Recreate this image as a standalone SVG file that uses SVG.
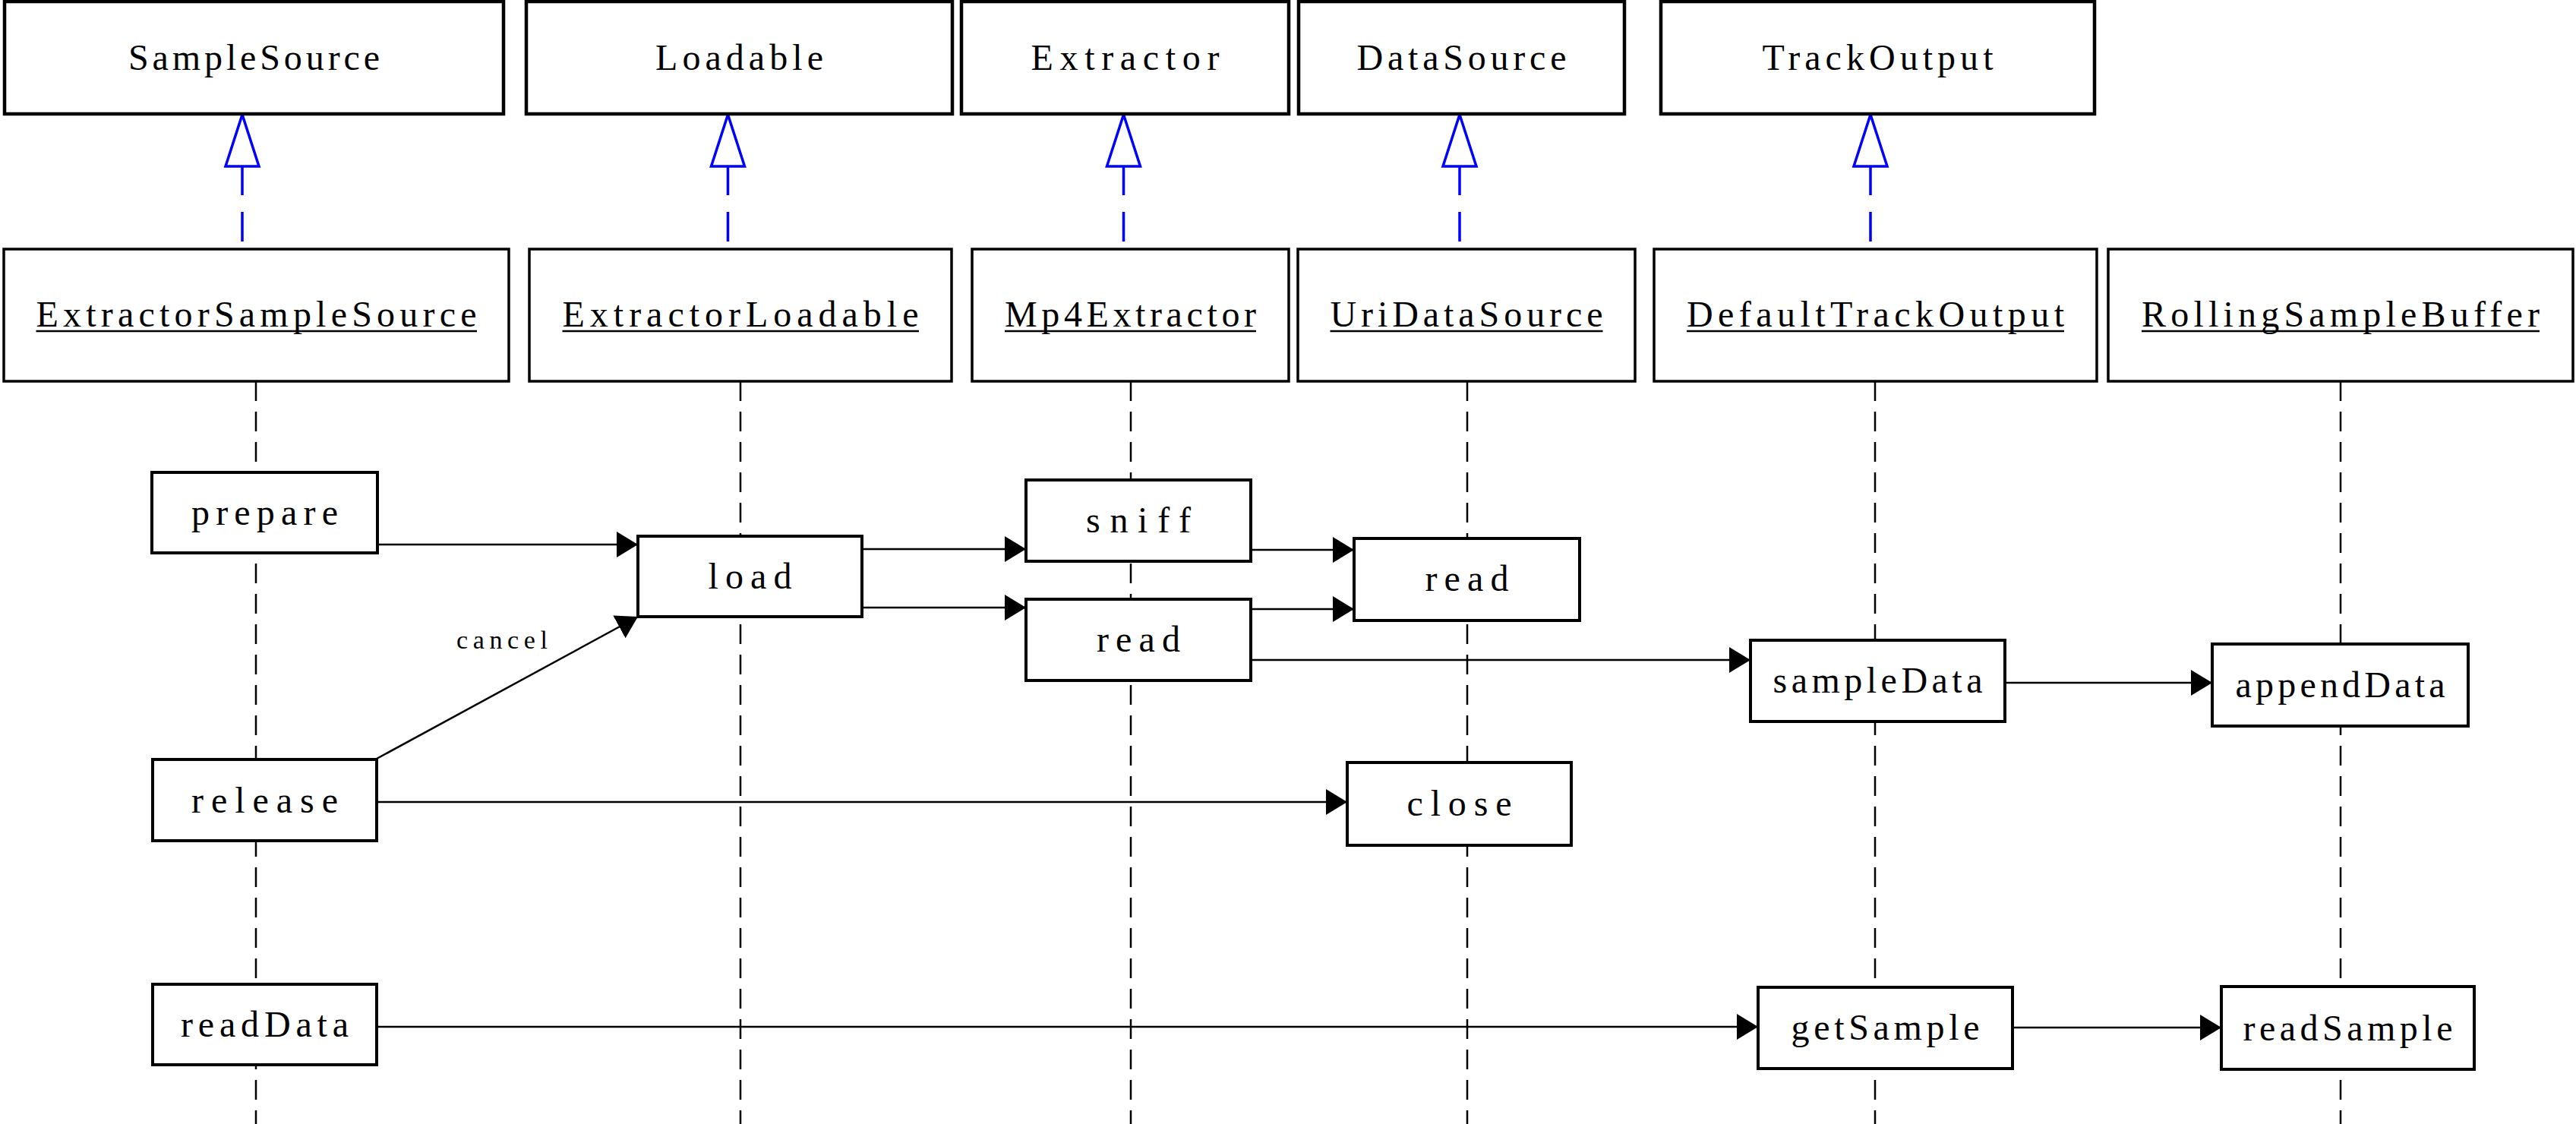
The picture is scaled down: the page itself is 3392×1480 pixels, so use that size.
<svg xmlns="http://www.w3.org/2000/svg" width="3392" height="1480" viewBox="0 0 3392 1480">
<defs>
<style>
.bg{fill:#fff}
.hdr{fill:#fff;stroke:#000;stroke-width:4.5}
.obj{fill:#fff;stroke:#000;stroke-width:3.5}
.act{fill:#fff;stroke:#000;stroke-width:4}
.life{stroke:#000;stroke-width:2.5;stroke-dasharray:26 14;fill:none}
.msg{stroke:#000;stroke-width:2.5;fill:none;marker-end:url(#ah)}
.real{stroke:#0000ff;stroke-width:3.5;fill:none;stroke-dasharray:39 22}
.tri{fill:#fff;stroke:#0000ff;stroke-width:3.5;stroke-linejoin:miter}
.t{font-family:"Liberation Serif","Times New Roman",serif;font-size:48px;fill:#000;text-anchor:middle}
.ul{stroke:#000;stroke-width:2.5}
.lbl{font-family:"Liberation Serif","Times New Roman",serif;font-size:34px;fill:#000;text-anchor:middle}
</style>
<marker id="ah" viewBox="0 0 28 34" refX="28" refY="17" markerWidth="28" markerHeight="34" markerUnits="userSpaceOnUse" orient="auto">
<path d="M0,0 L28,17 L0,34 Z" fill="#000"/>
</marker>
</defs>
<rect class="bg" x="0" y="0" width="3392" height="1480"/>

<g id="lifelines">
<line class="life" x1="337" y1="502" x2="337" y2="1480"/>
<line class="life" x1="975" y1="502" x2="975" y2="1480"/>
<line class="life" x1="1489" y1="502" x2="1489" y2="1480"/>
<line class="life" x1="1932" y1="502" x2="1932" y2="1480"/>
<line class="life" x1="2469" y1="502" x2="2469" y2="1480"/>
<line class="life" x1="3082" y1="502" x2="3082" y2="1480"/>
</g>

<g id="realizations">
<line class="real" x1="319" y1="318" x2="319" y2="219"/>
<polygon class="tri" points="297,219 319,151 341,219"/>
<line class="real" x1="958.5" y1="318" x2="958.5" y2="219"/>
<polygon class="tri" points="936.5,219 958.5,151 980.5,219"/>
<line class="real" x1="1479.5" y1="318" x2="1479.5" y2="219"/>
<polygon class="tri" points="1457.5,219 1479.5,151 1501.5,219"/>
<line class="real" x1="1922" y1="318" x2="1922" y2="219"/>
<polygon class="tri" points="1900,219 1922,151 1944,219"/>
<line class="real" x1="2463" y1="318" x2="2463" y2="219"/>
<polygon class="tri" points="2441,219 2463,151 2485,219"/>
</g>

<g id="connectors">
<line class="msg" x1="497" y1="717" x2="840" y2="717"/>
<line class="msg" x1="496" y1="999" x2="840" y2="812"/>
<text class="lbl" x="661" y="854" textLength="120" lengthAdjust="spacing">cancel</text>
<line class="msg" x1="1135" y1="723" x2="1351" y2="723"/>
<line class="msg" x1="1135" y1="800" x2="1351" y2="800"/>
<line class="msg" x1="1647" y1="724" x2="1783" y2="724"/>
<line class="msg" x1="1647" y1="802" x2="1783" y2="802"/>
<line class="msg" x1="1647" y1="869" x2="2305" y2="869"/>
<line class="msg" x1="2640" y1="899" x2="2913" y2="899"/>
<line class="msg" x1="496" y1="1056" x2="1774" y2="1056"/>
<line class="msg" x1="496" y1="1352" x2="2315" y2="1352"/>
<line class="msg" x1="2650" y1="1353" x2="2925" y2="1353"/>
</g>

<g id="SampleSource"><rect class="hdr" x="6" y="2" width="657" height="148"/><text class="t" x="334.5" y="92" textLength="331" lengthAdjust="spacing">SampleSource</text></g>
<g id="Loadable"><rect class="hdr" x="693" y="2" width="561" height="148"/><text class="t" x="973.5" y="92" textLength="221" lengthAdjust="spacing">Loadable</text></g>
<g id="Extractor"><rect class="hdr" x="1266" y="2" width="431" height="148"/><text class="t" x="1481.5" y="92" textLength="248" lengthAdjust="spacing">Extractor</text></g>
<g id="DataSource"><rect class="hdr" x="1710" y="2" width="429" height="148"/><text class="t" x="1924.5" y="92" textLength="276" lengthAdjust="spacing">DataSource</text></g>
<g id="TrackOutput"><rect class="hdr" x="2187" y="2" width="571" height="148"/><text class="t" x="2472.5" y="92" textLength="304" lengthAdjust="spacing">TrackOutput</text></g>

<g id="ExtractorSampleSource"><rect class="obj" x="5" y="328" width="665" height="174"/><text class="t" x="337.5" y="430" textLength="580" lengthAdjust="spacing">ExtractorSampleSource</text><line class="ul" x1="47.5" y1="436" x2="628" y2="436"/></g>
<g id="ExtractorLoadable"><rect class="obj" x="697" y="328" width="556" height="174"/><text class="t" x="975" y="430" textLength="469" lengthAdjust="spacing">ExtractorLoadable</text><line class="ul" x1="740.5" y1="436" x2="1210" y2="436"/></g>
<g id="Mp4Extractor"><rect class="obj" x="1280" y="328" width="417" height="174"/><text class="t" x="1488.5" y="430" textLength="331" lengthAdjust="spacing">Mp4Extractor</text><line class="ul" x1="1323" y1="436" x2="1654" y2="436"/></g>
<g id="UriDataSource"><rect class="obj" x="1709" y="328" width="444" height="174"/><text class="t" x="1931" y="430" textLength="359" lengthAdjust="spacing">UriDataSource</text><line class="ul" x1="1751.5" y1="436" x2="2110.5" y2="436"/></g>
<g id="DefaultTrackOutput"><rect class="obj" x="2178" y="328" width="583" height="174"/><text class="t" x="2469.5" y="430" textLength="497" lengthAdjust="spacing">DefaultTrackOutput</text><line class="ul" x1="2221" y1="436" x2="2718" y2="436"/></g>
<g id="RollingSampleBuffer"><rect class="obj" x="2776" y="328" width="612" height="174"/><text class="t" x="3082" y="430" textLength="524" lengthAdjust="spacing">RollingSampleBuffer</text><line class="ul" x1="2820" y1="436" x2="3344" y2="436"/></g>

<g id="prepare"><rect class="act" x="200" y="622" width="297" height="106"/><text class="t" x="348.5" y="691" textLength="193" lengthAdjust="spacing">prepare</text></g>
<g id="release"><rect class="act" x="201" y="1000" width="295" height="107"/><text class="t" x="348.5" y="1070" textLength="193" lengthAdjust="spacing">release</text></g>
<g id="readData"><rect class="act" x="201" y="1296" width="295" height="106"/><text class="t" x="348.5" y="1365" textLength="221" lengthAdjust="spacing">readData</text></g>
<g id="load"><rect class="act" x="840" y="706" width="295" height="106"/><text class="t" x="987.5" y="775" textLength="110" lengthAdjust="spacing">load</text></g>
<g id="sniff"><rect class="act" x="1351" y="632" width="296" height="107"/><text class="t" x="1499" y="701" textLength="138" lengthAdjust="spacing">sniff</text></g>
<g id="read_extractor"><rect class="act" x="1351" y="789" width="296" height="107"/><text class="t" x="1499" y="858" textLength="110" lengthAdjust="spacing">read</text></g>
<g id="read_datasource"><rect class="act" x="1783" y="709" width="297" height="108"/><text class="t" x="1931.5" y="778" textLength="110" lengthAdjust="spacing">read</text></g>
<g id="close"><rect class="act" x="1774" y="1004" width="295" height="109"/><text class="t" x="1921.5" y="1074" textLength="138" lengthAdjust="spacing">close</text></g>
<g id="sampleData"><rect class="act" x="2305" y="843" width="335" height="107"/><text class="t" x="2472.5" y="912" textLength="276" lengthAdjust="spacing">sampleData</text></g>
<g id="appendData"><rect class="act" x="2913" y="848" width="337" height="108"/><text class="t" x="3081.5" y="918" textLength="276" lengthAdjust="spacing">appendData</text></g>
<g id="getSample"><rect class="act" x="2315" y="1300" width="335" height="107"/><text class="t" x="2482.5" y="1369" textLength="248" lengthAdjust="spacing">getSample</text></g>
<g id="readSample"><rect class="act" x="2925" y="1299" width="333" height="109"/><text class="t" x="3091.5" y="1370" textLength="276" lengthAdjust="spacing">readSample</text></g>
</svg>
